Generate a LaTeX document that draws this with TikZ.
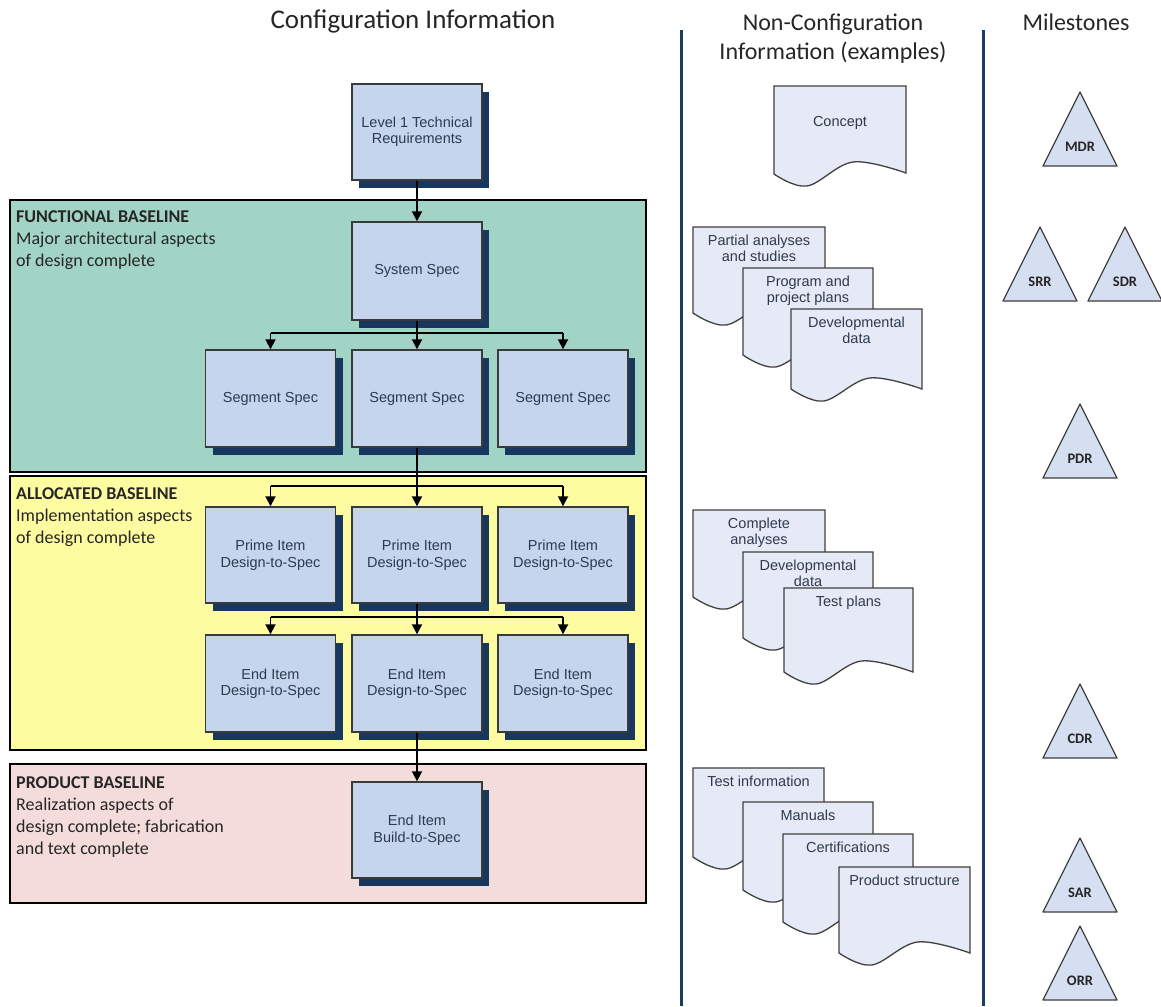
\documentclass[tikz,border=0pt]{standalone}
\usepackage{fontspec}
\setmainfont{Carlito}
\newfontfamily\arialf{Liberation Sans}
\usetikzlibrary{arrows.meta,shadows}
\definecolor{boxfill}{HTML}{C6D5EE}
\definecolor{shadowc}{HTML}{17375E}
\definecolor{boxline}{HTML}{3A3A3A}
\definecolor{boxtext}{HTML}{2E3A4E}
\definecolor{funcfill}{HTML}{A1D4C5}
\definecolor{allocfill}{HTML}{FEFCA0}
\definecolor{prodfill}{HTML}{F3DCDA}
\definecolor{docfill}{HTML}{E5EAF6}
\definecolor{docline}{HTML}{404040}
\definecolor{navyline}{HTML}{1F3A60}
\definecolor{trifill}{HTML}{D5DFF1}
\definecolor{titlec}{HTML}{262626}
\newcommand\docsh[6]{%
  \fill[docfill,draw=docline,line width=1.3pt] (#2,{#3+#5}) -- (#2,#3) -- ({#2+#4},#3) -- ({#2+#4},{#3+#5})
    -- plot[smooth,tension=0.6] coordinates {({#2+#4},{#3+#5}) ({#2+0.6*#4},{#3+#5-11}) ({#2+0.25*#4},{#3+#5+12}) (#2,{#3+#5})} -- cycle;
  \node[doctext,anchor=north] (#1) at ({#2+#4/2},{#3+8}) {#6};}
\newcommand\mile[4]{%
  \draw[tri] ({#2-37},#3) -- (#2,{#3-74}) -- ({#2+37},#3) -- cycle;
  \node[trilabel] (#1) at (#2,{#3-19}) {#4};}
\begin{document}
\begin{tikzpicture}[x=1pt,y=-1pt,
  specbox/.style={draw=boxline, line width=1.4pt, fill=boxfill, minimum width=130pt, minimum height=97pt,
    inner sep=0pt, align=center, font=\arialf\fontsize{14.5}{16.5}\selectfont, text=boxtext,
    drop shadow={shadow xshift=7pt, shadow yshift=-8pt, fill=shadowc, opacity=1}},
  basebox/.style={draw=black, line width=2pt, minimum width=636pt, inner sep=0pt},
  basetext/.style={anchor=north west, inner sep=0pt, align=left, font=\fontsize{18}{22}\selectfont, text=titlec},
  conn/.style={draw=black, line width=1.8pt, -{Triangle[width=10pt,length=10pt]}},
  ln/.style={draw=black, line width=1.8pt},
  doctext/.style={font=\arialf\fontsize{14.5}{15.5}\selectfont, align=center, text=boxtext, inner sep=0pt},
  tri/.style={draw=docline, line width=1.3pt, fill=trifill, line join=round},
  trilabel/.style={font=\bfseries\fontsize{14.5}{16}\selectfont, text=titlec, inner sep=0pt},
  title/.style={font=\fontsize{24}{29}\selectfont, text=titlec, inner sep=0pt, align=center},
  divider/.style={draw=navyline, line width=3pt}
]
\useasboundingbox (0,0) rectangle (1161,1006);
\fill[white] (0,0) rectangle (1161,1006);

% titles
\node[title, font=\fontsize{27}{30}\selectfont] (t1) at (413,21) {Configuration Information};
\node[title] (t2) at (833,39) {Non-Configuration\\Information (examples)};
\node[title] (t3) at (1076,22) {Milestones};

% dividers
\coordinate (d1a) at (681,30); \coordinate (d1b) at (681,1006);
\coordinate (d2a) at (983,30); \coordinate (d2b) at (983,1006);
\draw[divider] (d1a) -- (d1b);
\draw[divider] (d2a) -- (d2b);

% baselines
\node[basebox, fill=funcfill, minimum height=272pt] (FB) at (328,336) {};
\node[basebox, fill=allocfill, minimum height=274pt] (AB) at (328,613) {};
\node[basebox, fill=prodfill, minimum height=139pt] (PB) at (328,833.5) {};
\node[basetext] (FBt) at (16,210) {\textbf{FUNCTIONAL BASELINE}\\Major architectural aspects\\of design complete};
\node[basetext] (ABt) at (16,487) {\textbf{ALLOCATED BASELINE}\\Implementation aspects\\of design complete};
\node[basetext] (PBt) at (16,776) {\textbf{PRODUCT BASELINE}\\Realization aspects of\\design complete; fabrication\\and text complete};

% spec boxes
\node[specbox, minimum height=96pt] (L1) at (417,132) {Level 1 Technical\\Requirements};
\node[specbox, minimum height=98pt] (SYS) at (417,271) {System Spec};
\node[specbox] (SEG1) at (270.5,398.5) {Segment Spec};
\node[specbox] (SEG2) at (417,398.5) {Segment Spec};
\node[specbox] (SEG3) at (563,398.5) {Segment Spec};
\node[specbox, minimum height=96pt] (PR1) at (270.5,555) {Prime Item\\Design-to-Spec};
\node[specbox, minimum height=96pt] (PR2) at (417,555) {Prime Item\\Design-to-Spec};
\node[specbox, minimum height=96pt] (PR3) at (563,555) {Prime Item\\Design-to-Spec};
\node[specbox] (EN1) at (270.5,683.5) {End Item\\Design-to-Spec};
\node[specbox] (EN2) at (417,683.5) {End Item\\Design-to-Spec};
\node[specbox] (EN3) at (563,683.5) {End Item\\Design-to-Spec};
\node[specbox, minimum height=96pt] (BLD) at (417,830) {End Item\\Build-to-Spec};

% connectors
\draw[conn] (L1.south) -- (SYS.north);

\coordinate (j1) at (417,333);
\draw[conn] (SYS.south) -- (SEG2.north);
\draw[ln] (SEG1.north |- j1) -- (SEG3.north |- j1);
\draw[conn] (SEG1.north |- j1) -- (SEG1.north);
\draw[conn] (SEG3.north |- j1) -- (SEG3.north);

\coordinate (j2) at (417,486);
\draw[conn] (SEG2.south) -- (PR2.north);
\draw[ln] (PR1.north |- j2) -- (PR3.north |- j2);
\draw[conn] (PR1.north |- j2) -- (PR1.north);
\draw[conn] (PR3.north |- j2) -- (PR3.north);

\coordinate (j3) at (417,617);
\draw[conn] (PR2.south) -- (EN2.north);
\draw[ln] (EN1.north |- j3) -- (EN3.north |- j3);
\draw[conn] (EN1.north |- j3) -- (EN1.north);
\draw[conn] (EN3.north |- j3) -- (EN3.north);

\draw[conn] (EN2.south) -- (BLD.north);

% documents
\fill[docfill,draw=docline,line width=1.3pt] (774,173) -- (774,86) -- (906,86) -- (906,173)
  -- plot[smooth,tension=0.6] coordinates {(906,173) (853,162) (807,186) (774,174)} -- cycle;
\node[doctext] (dC) at (840,123) {Concept};

\docsh{dA1}{693}{227}{132}{86}{Partial analyses\\and studies}
\docsh{dB1}{743}{268}{130}{87}{Program and\\project plans}
\docsh{dC1}{791}{309}{131}{80}{Developmental\\data}

\docsh{dA2}{693}{510}{132}{87}{Complete\\analyses}
\docsh{dB2}{743}{552}{130}{86}{Developmental\\data}
\docsh{dC2}{784}{588}{129}{84}{Test plans}

\docsh{dA3}{693}{768}{131}{89}{Test information}
\docsh{dB3}{743}{802}{130}{88}{Manuals}
\docsh{dC3}{783}{834}{130}{88}{Certifications}
\docsh{dD3}{839}{867}{131}{86}{Product structure}

% milestones
\mile{mdr}{1080}{166}{MDR}
\mile{srr}{1040}{301}{SRR}
\mile{sdr}{1125}{301}{SDR}
\mile{pdr}{1080}{478}{PDR}
\mile{cdr}{1080}{758}{CDR}
\mile{sar}{1080}{912}{SAR}
\mile{orr}{1080}{1000}{ORR}
\end{tikzpicture}
\end{document}
